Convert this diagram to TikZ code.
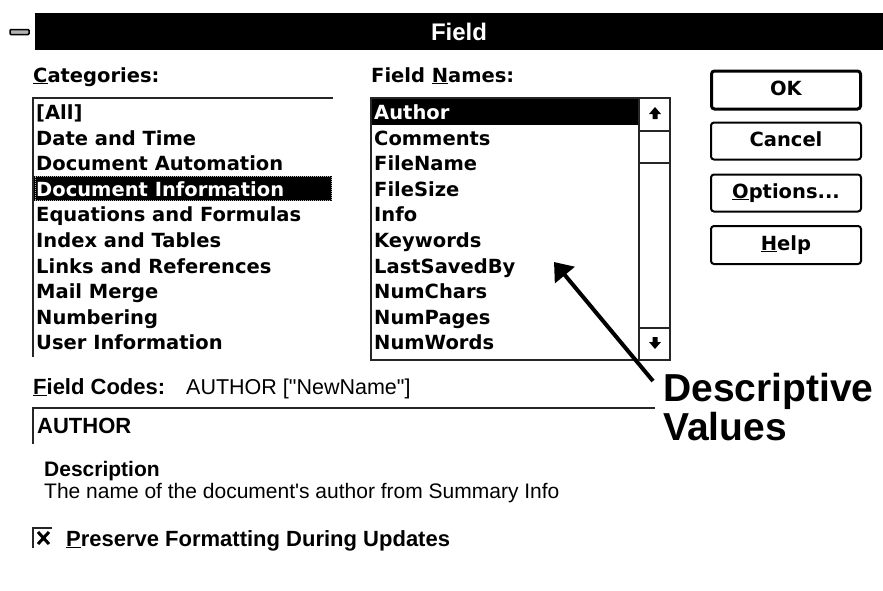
\documentclass[tikz,border=0pt]{standalone}
\usepackage{fontspec}
\setmainfont{Liberation Sans}
\newfontfamily\uifont{DejaVu Sans}
\usetikzlibrary{arrows.meta}
\newcommand{\ulx}[1]{\underline{#1}}
\begin{document}
\begin{tikzpicture}[x=1pt,y=-1pt,
  uitext/.style={inner sep=0pt, anchor=base west, font=\uifont\bfseries\fontsize{19.5}{22}\selectfont},
  hitext/.style={uitext, text=white},
  boldlbl/.style={inner sep=0pt, anchor=base west, font=\bfseries\fontsize{22}{26}\selectfont},
  reglbl/.style={inner sep=0pt, anchor=base west, font=\fontsize{21.5}{26}\selectfont},
  bigtext/.style={inner sep=0pt, anchor=base west, font=\bfseries\fontsize{39}{42}\selectfont},
  btn/.style={draw=black, line width=2pt, rounded corners=3pt, minimum width=150pt, inner sep=0pt,
              text height=14pt, text depth=4pt, font=\uifont\bfseries\fontsize{19.5}{22}\selectfont},
  frame/.style={draw=black!85, line width=2pt},
  bigarrow/.style={line width=4pt, -{Triangle[length=17pt,width=25pt]}}
]
\useasboundingbox (0,0) rectangle (883,590);
\fill[white] (0,0) rectangle (883,590);

% title bar
\node[fill=black, text=white, minimum width=848pt, minimum height=37pt, inner sep=0pt,
      font=\bfseries\fontsize{24}{26}\selectfont] (title) at (459,31.5) {Field};
\node[draw=black, line width=1.5pt, fill=black!30, rounded corners=1pt, minimum width=19pt,
      minimum height=5pt, inner sep=0pt] (sysmenu) at (19.5,32) {};

% labels
\node[uitext] (catlbl) at (33,82) {\ulx{C}ategories:};
\node[uitext] (fnlbl) at (371,82) {Field \ulx{N}ames:};

% categories list
\draw[frame] (333,98) -- (33,98) -- (33,357);
\fill[black] (34,175.8) rectangle (332,201.4);
\draw[white!70!black, densely dotted, line width=1pt] (35,176.8) rectangle (331,200.4);
\foreach \t/\i in {{[All]}/0, Date and Time/1, Document Automation/2, Equations and Formulas/4,
                   Index and Tables/5, Links and References/6, Mail Merge/7, Numbering/8, User Information/9}
  \node[uitext] (cat\i) at (36,{119.5+25.6*\i}) {\t};
\node[hitext] (cat3) at (36,{119.5+25.6*3}) {Document Information};

% field names list
\fill[black] (372,99) rectangle (640,124.6);
\draw[frame] (371,98) rectangle (670,360);
\draw[frame] (639,98) -- (639,360);
\draw[frame] (639,131) -- (670,131);
\draw[frame] (639,163) -- (670,163);
\draw[frame] (639,328) -- (670,328);
\fill[black] (649,114) -- (655,107) -- (661,114) -- (657.5,114) -- (657.5,119) -- (652.5,119) -- (652.5,114) -- cycle;
\fill[black] (649,342) -- (655,349) -- (661,342) -- (657.5,342) -- (657.5,337) -- (652.5,337) -- (652.5,342) -- cycle;
\node[hitext] (fn0) at (374,119.5) {Author};
\foreach \t/\i in {Comments/1, FileName/2, FileSize/3, Info/4, Keywords/5, LastSavedBy/6,
                   NumChars/7, NumPages/8, NumWords/9}
  \node[uitext] (fn\i) at (374,{119.5+25.6*\i}) {\t};

% buttons
\node[btn, line width=3pt, minimum width=149pt, minimum height=38pt] (ok) at (786,90) {OK};
\node[btn, minimum height=37pt] (cancel) at (786,141) {Cancel};
\node[btn, minimum height=37pt] (options) at (786,193) {\ulx{O}ptions...};
\node[btn, minimum height=38pt] (help) at (786,245) {\ulx{H}elp};

% field codes
\node[boldlbl] (fclbl) at (33,394) {\ulx{F}ield Codes:};
\node[reglbl] (fcval) at (186,394) {AUTHOR [\textquotedbl NewName\textquotedbl]};
\draw[frame] (655,408) -- (33,408) -- (33,444);
\node[boldlbl] (fcbox) at (37,433) {AUTHOR};

% description
\node[boldlbl, font=\bfseries\fontsize{21}{24}\selectfont] (desclbl) at (44,476) {Description};
\node[reglbl, font=\fontsize{21}{24}\selectfont] (desctext) at (44,498) {The name of the document\textquotesingle s author from Summary Info};

% checkbox
\draw[frame] (52,528) -- (33,528) -- (33,548);
\draw[black, line width=3pt] (38,532) -- (49,544) (49,532) -- (38,544);
\node[boldlbl] (preserve) at (66,546) {\ulx{P}reserve Formatting During Updates};

% callout
\node[bigtext] (descr) at (663,401) {Descriptive};
\node[bigtext] (vals) at (663,440) {Values};
\coordinate (arrowstart) at (653,381);
\coordinate (arrowtip) at (554,262);
\draw[bigarrow] (arrowstart) -- (arrowtip);
\end{tikzpicture}
\end{document}
